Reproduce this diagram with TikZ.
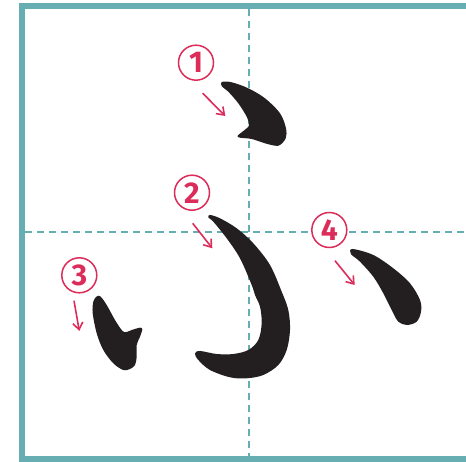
\documentclass[tikz,border=0pt]{standalone}
\usepackage{fontspec}
\setsansfont{Fira Sans}
\usetikzlibrary{arrows.meta}
\definecolor{guide}{HTML}{66AEB2}
\definecolor{crimson}{HTML}{DC2D5A}
\definecolor{ink}{HTML}{231F20}
\tikzset{
  framebox/.style={draw=guide, line width=5.6pt},
  guideline/.style={draw=guide, line width=1.6pt, dash pattern=on 7pt off 5pt},
  numlabel/.style={
    circle, draw=crimson, fill=white, line width=1.5pt,
    minimum size=35pt, inner sep=0pt, text=crimson,
    font=\sffamily\bfseries\fontsize{30}{30}\selectfont
  },
  orderarrow/.style={
    -{Straight Barb[length=7pt,width=10pt]}, line width=1.6pt, draw=crimson
  },
  inkstroke/.style={fill=ink, draw=none},
}

\begin{document}
\begin{tikzpicture}[x=1pt, y=-1pt]
  \useasboundingbox (0,0) rectangle (466,462);
  \clip (0,0) rectangle (466,462);
  % practice square and guides
  \draw[framebox] (22.2,6.2) rectangle (475,459.2);
  \draw[guideline] (25,232.3) -- (466,232.3);
  \draw[guideline] (248.7,9) -- (248.7,456.7);
  % stroke numbers
  \node[numlabel] (num1) at (196,62.7) {1};
  \node[numlabel] (num2) at (192,192.7) {2};
  \node[numlabel] (num3) at (79.3,275.3) {3};
  \node[numlabel] (num4) at (329.3,230) {4};
  % direction arrows
  \coordinate (a1s) at (202.7,93.3);  \coordinate (a1e) at (225.3,116);
  \coordinate (a2s) at (192.7,223.3); \coordinate (a2e) at (212.3,248.3);
  \coordinate (a3s) at (74,300.7);    \coordinate (a3e) at (79.3,331);
  \coordinate (a4s) at (335,260.7);   \coordinate (a4e) at (354.7,285);
  \draw[orderarrow] (a1s) -- (a1e);
  \draw[orderarrow] (a2s) -- (a2e);
  \draw[orderarrow] (a3s) -- (a3e);
  \draw[orderarrow] (a4s) -- (a4e);
  % stroke 1
  \fill[inkstroke] plot[smooth cycle, tension=0.55] coordinates {
    (221.7,82) (231.7,82.3) (248.3,88.3) (265,98.3) (280,113.3) (286,128.3)
    (285.7,138.3) (280,145) (275,145.7) (265,143.3) (251.7,139) (240,137.7)
    (237.5,136) (241.7,132.3) (246.7,128.3) (249,125) (246.7,116.7)
    (238.3,103.3) (228.3,91.7) (222,86.5)};
  % stroke 2
  \fill[inkstroke] plot[smooth cycle, tension=0.55] coordinates {
    (210,215) (220,218.3) (236.7,228.3) (253.3,243.3) (270,265) (281.7,291.7)
    (288.3,310) (290,330) (286.7,350) (278.3,365) (263.3,375) (246.7,378.3)
    (230,377.3) (210,370) (198.3,360) (195,353.5) (200,351) (216.7,354)
    (233.3,354) (248.3,350) (258.3,340) (261.7,323.3) (260,306.7) (255,295)
    (251.7,285) (240,258.3) (226.7,238.3) (213.3,221.7) (208.3,217.5)};
  % stroke 3
  \fill[inkstroke] plot[smooth cycle, tension=0.55] coordinates {
    (96.7,296.5) (100.5,296.5) (106.7,305) (115,320) (121.7,330) (125.5,332.3)
    (131.7,330) (140,327.7) (142.3,329.3) (140,336.7) (136.7,345) (136.7,356.7)
    (135,365) (130,369) (123.3,370) (113.3,363.3) (103.3,350) (96.7,333.3)
    (92.7,313.3) (93.3,301.7)};
  % stroke 4
  \fill[inkstroke] plot[smooth cycle, tension=0.55] coordinates {
    (352.5,249) (373.3,255) (393.3,268.3) (410,283.3) (420,300) (421,311.7)
    (416.7,321.7) (406.7,325) (398.3,321.7) (393.3,313.3) (383.3,293.3)
    (373.3,276.7) (360,261.7) (351,254)};
\end{tikzpicture}
\end{document}
